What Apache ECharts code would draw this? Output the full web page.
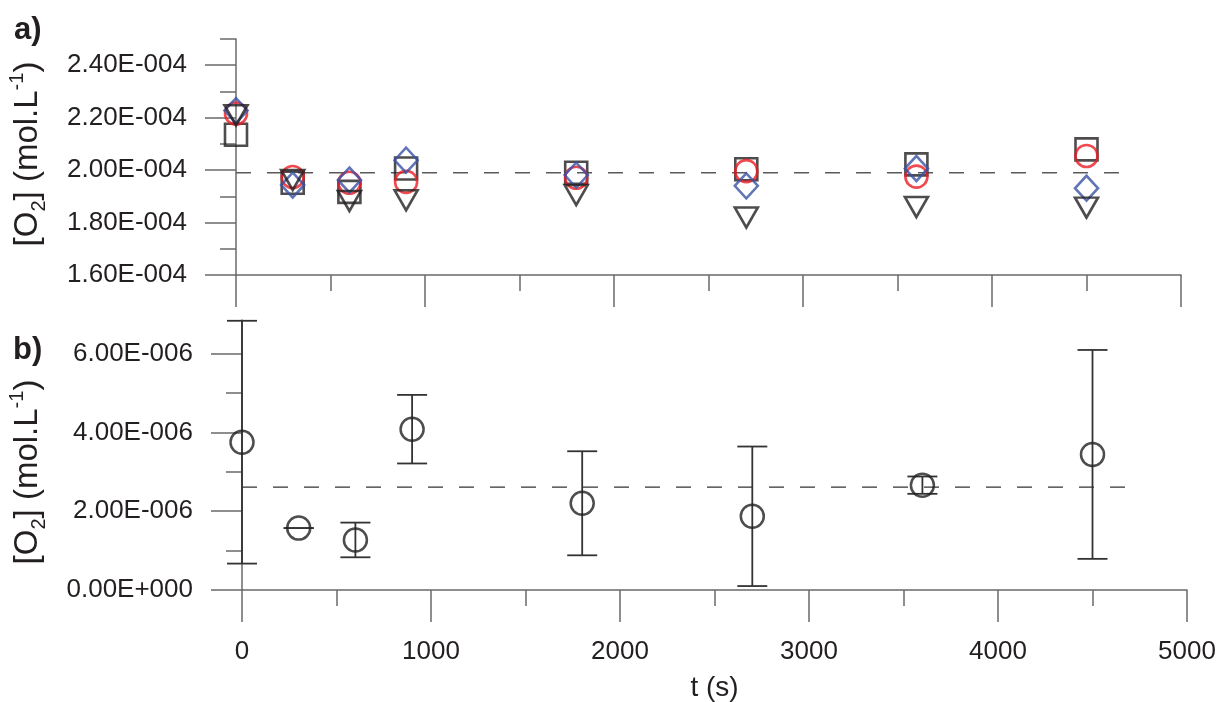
<!DOCTYPE html>
<html>
<head>
<meta charset="utf-8">
<script src="https://cdn.jsdelivr.net/npm/echarts@6/dist/echarts.min.js"></script>
<style>
html,body{margin:0;padding:0;background:#fff;}
#chart{width:1218px;height:702px;}
</style>
</head>
<body>
<div id="chart"></div>
<script>
// ---- data ----
const times = [0, 300, 600, 900, 1800, 2700, 3600, 4500];
// panel a: [O2] (mol/L)
const squareA   = [2.135e-4, 1.952e-4, 1.917e-4, 2.006e-4, 1.990e-4, 2.003e-4, 2.022e-4, 2.079e-4];
const circleA   = [2.216e-4, 1.974e-4, 1.952e-4, 1.955e-4, 1.971e-4, 1.996e-4, 1.975e-4, 2.054e-4];
const diamondA  = [2.227e-4, 1.943e-4, 1.962e-4, 2.038e-4, 1.981e-4, 1.940e-4, 2.006e-4, 1.931e-4];
const triangleA = [2.209e-4, 1.962e-4, 1.882e-4, 1.885e-4, 1.905e-4, 1.819e-4, 1.859e-4, 1.857e-4];
const refA = 1.99e-4;
const refEndA = 4750;
// panel b: mean and error
const meanB = [3.75e-6, 1.57e-6, 1.27e-6, 4.08e-6, 2.20e-6, 1.87e-6, 2.66e-6, 3.44e-6];
const errB  = [3.08e-6, 0, 0.44e-6, 0.87e-6, 1.32e-6, 1.77e-6, 0.22e-6, 2.65e-6];
const refB = 2.61e-6;
const refEndB = 4710;
// axes
const xMin = 0, xMax = 5000, xInterval = 1000;
const yMinA = 1.6e-4, yMaxA = 2.5e-4;
const yMajorA = [1.6e-4, 1.8e-4, 2.0e-4, 2.2e-4, 2.4e-4];
const yMinorA = [1.7e-4, 1.9e-4, 2.1e-4, 2.3e-4, 2.5e-4];
const yMinB = 0, yMaxB = 6.85e-6;
const yMajorB = [0, 2e-6, 4e-6, 6e-6];
const yMinorB = [1e-6, 3e-6, 5e-6];

// ---- styling ----
const FONT = '"Liberation Sans", Arial, Helvetica, sans-serif';
const TXT = '#231f20';
const AX = '#6a6a6a';
const BLACK = '#231f20';
const RED = '#ec1c24';
const BLUE = '#3953a4';

function sci(v) {
  if (Math.abs(v) < 1e-30) return '0.00E+000';
  let e = Math.floor(Math.log10(Math.abs(v)));
  let m = v / Math.pow(10, e);
  if (Math.abs(m) >= 9.995) { m /= 10; e += 1; }
  return m.toFixed(2) + 'E' + (e < 0 ? '-' : '+') + String(Math.abs(e)).padStart(3, '0');
}

function xAxisDef(gridIndex, showLabels) {
  return {
    type: 'value', gridIndex, min: xMin, max: xMax, interval: xInterval,
    axisLine: { show: true, onZero: false, lineStyle: { color: AX, width: 1.5 } },
    axisTick: { show: true, length: 32, lineStyle: { color: AX, width: 1.5 } },
    minorTick: { show: true, splitNumber: 2, length: 16, lineStyle: { color: AX, width: 1.5 } },
    axisLabel: { show: showLabels, margin: 49, fontSize: 26, color: TXT, fontFamily: FONT,
                 formatter: function (v) { return String(Math.round(v)); } },
    splitLine: { show: false }, minorSplitLine: { show: false }
  };
}
function yMajorDef(gridIndex, min, max, ticks) {
  return {
    type: 'value', gridIndex, min, max, position: 'left',
    axisLine: { show: true, onZero: false, lineStyle: { color: AX, width: 1.5 } },
    axisTick: { show: true, length: 31, customValues: ticks, lineStyle: { color: AX, width: 1.5 } },
    axisLabel: { show: true, customValues: ticks, margin: 49, fontSize: 26, color: TXT, fontFamily: FONT, formatter: sci },
    splitLine: { show: false }
  };
}
function yMinorDef(gridIndex, min, max, ticks) {
  return {
    type: 'value', gridIndex, min, max, position: 'left', offset: 0,
    axisLine: { show: false, onZero: false },
    axisTick: { show: true, length: 16, customValues: ticks, lineStyle: { color: AX, width: 1.5 } },
    axisLabel: { show: false, customValues: ticks },
    splitLine: { show: false }
  };
}
function openScatter(name, data, symbol, size, color, rotate) {
  return {
    name, type: 'scatter', xAxisIndex: 0, yAxisIndex: 0,
    data: times.map((t, i) => [t, data[i]]),
    symbol, symbolSize: size, symbolRotate: rotate || 0,
    itemStyle: { color: 'rgba(0,0,0,0)', borderColor: color, borderWidth: 2.6 },
    silent: true, z: 3
  };
}

const titleRich = {
  n: { fontSize: 33, fontFamily: FONT, color: TXT, lineHeight: 42 },
  sub: { fontSize: 20, fontFamily: FONT, color: TXT, verticalAlign: 'bottom' },
  sup: { fontSize: 20, fontFamily: FONT, color: TXT, verticalAlign: 'top' }
};
const titleText = '{n|[O}{sub|2}{n|] (mol.L}{sup|-1}{n|)}';

const chart = echarts.init(document.getElementById('chart'), null, { renderer: 'canvas' });
chart.setOption({
  animation: false,
  backgroundColor: '#ffffff',
  grid: [
    { left: 236, right: 37, top: 39, height: 236, containLabel: false, outerBoundsMode: 'none' },
    { left: 242, right: 31, top: 320, height: 270, containLabel: false, outerBoundsMode: 'none' }
  ],
  xAxis: [
    xAxisDef(0, false),
    Object.assign(xAxisDef(1, true), {
      name: 't (s)', nameLocation: 'middle', nameGap: 84,
      nameTextStyle: { fontSize: 28, color: TXT, fontFamily: FONT }
    })
  ],
  yAxis: [
    yMajorDef(0, yMinA, yMaxA, yMajorA),
    yMinorDef(0, yMinA, yMaxA, yMinorA),
    yMajorDef(1, yMinB, yMaxB, yMajorB),
    yMinorDef(1, yMinB, yMaxB, yMinorB)
  ],
  graphic: [
    { type: 'text', x: 14, y: 30, style: { text: 'a)', font: 'bold 31px ' + FONT, fill: TXT, align: 'left', verticalAlign: 'middle', textAlign: 'left', textVerticalAlign: 'middle' } },
    { type: 'text', x: 13, y: 350, style: { text: 'b)', font: 'bold 31px ' + FONT, fill: TXT, align: 'left', verticalAlign: 'middle', textAlign: 'left', textVerticalAlign: 'middle' } },
    { type: 'text', x: 28, y: 154, rotation: Math.PI / 2, style: { text: titleText, rich: titleRich, fill: TXT, align: 'center', verticalAlign: 'middle', textAlign: 'center', textVerticalAlign: 'middle' } },
    { type: 'text', x: 28, y: 472, rotation: Math.PI / 2, style: { text: titleText, rich: titleRich, fill: TXT, align: 'center', verticalAlign: 'middle', textAlign: 'center', textVerticalAlign: 'middle' } }
  ],
  series: [
    {
      type: 'line', xAxisIndex: 0, yAxisIndex: 0, symbol: 'none', silent: true, z: 1,
      data: [[0, refA], [refEndA, refA]],
      lineStyle: { color: '#5a5a5a', width: 1.3, type: [15, 16] }
    },
    openScatter('square', squareA, 'rect', 22, BLACK),
    openScatter('circle', circleA, 'circle', 22, RED),
    openScatter('diamond', diamondA, 'diamond', [23, 25], BLUE),
    openScatter('triangle', triangleA, 'triangle', [23, 20], BLACK, 180),
    {
      type: 'line', xAxisIndex: 1, yAxisIndex: 2, symbol: 'none', silent: true, z: 1,
      data: [[0, refB], [refEndB, refB]],
      lineStyle: { color: '#333333', width: 1.3, type: [15, 16] }
    },
    {
      type: 'custom', xAxisIndex: 1, yAxisIndex: 2, silent: true, z: 2,
      data: times.map((t, i) => [t, meanB[i] - errB[i], meanB[i] + errB[i]]),
      renderItem: function (params, api) {
        const lo = api.coord([api.value(0), api.value(1)]);
        const hi = api.coord([api.value(0), api.value(2)]);
        const hw = 15;
        const st = { stroke: '#333333', lineWidth: 1.8 };
        return {
          type: 'group',
          children: [
            { type: 'line', shape: { x1: lo[0], y1: lo[1], x2: hi[0], y2: hi[1] }, style: st },
            { type: 'line', shape: { x1: lo[0] - hw, y1: lo[1], x2: lo[0] + hw, y2: lo[1] }, style: st },
            { type: 'line', shape: { x1: hi[0] - hw, y1: hi[1], x2: hi[0] + hw, y2: hi[1] }, style: st }
          ]
        };
      }
    },
    {
      type: 'scatter', xAxisIndex: 1, yAxisIndex: 2, silent: true, z: 3,
      data: times.map((t, i) => [t, meanB[i]]),
      symbol: 'circle', symbolSize: 23,
      itemStyle: { color: 'rgba(0,0,0,0)', borderColor: BLACK, borderWidth: 2.5 }
    }
  ]
});
</script>
</body>
</html>
